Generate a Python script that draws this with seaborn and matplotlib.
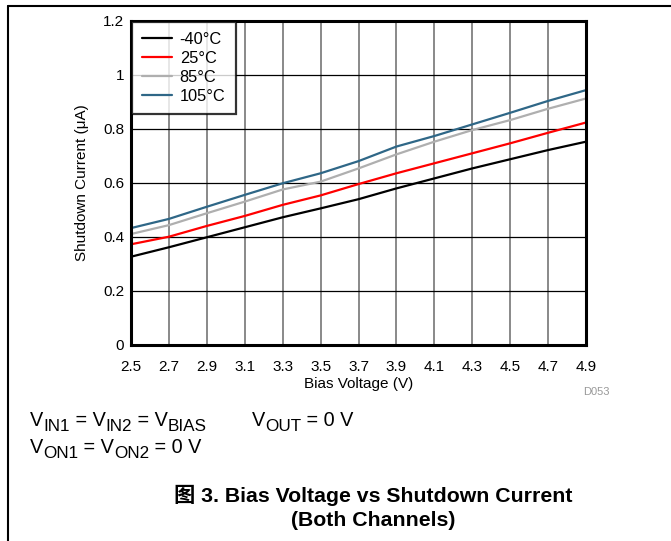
import numpy as np
import pandas as pd
import matplotlib
matplotlib.use("Agg")
import matplotlib.pyplot as plt
import seaborn as sns
from matplotlib.lines import Line2D

bias_v = [2.5, 2.7, 2.9, 3.1, 3.3, 3.5, 3.7, 3.9, 4.1, 4.3, 4.5, 4.7, 4.9]
i_m40 = [0.327, 0.362, 0.399, 0.436, 0.473, 0.506, 0.540, 0.580, 0.617, 0.654, 0.688, 0.722, 0.753]
i_25 = [0.373, 0.401, 0.441, 0.478, 0.519, 0.554, 0.596, 0.636, 0.673, 0.710, 0.747, 0.786, 0.824]
i_85 = [0.411, 0.444, 0.488, 0.531, 0.576, 0.605, 0.654, 0.706, 0.753, 0.796, 0.833, 0.875, 0.913]
i_105 = [0.433, 0.467, 0.512, 0.556, 0.599, 0.636, 0.681, 0.735, 0.774, 0.817, 0.860, 0.904, 0.944]
series_names = ["-40°C", "25°C", "85°C", "105°C"]
colors = ["#000000", "#FF0000", "#AFAFAF", "#2F6787"]
x_ticks = [2.5, 2.7, 2.9, 3.1, 3.3, 3.5, 3.7, 3.9, 4.1, 4.3, 4.5, 4.7, 4.9]
y_ticks = [0, 0.2, 0.4, 0.6, 0.8, 1.0, 1.2]
y_ticklabels = ["0", "0.2", "0.4", "0.6", "0.8", "1", "1.2"]

rows = []
for name, vals in zip(series_names, [i_m40, i_25, i_85, i_105]):
    for x, y in zip(bias_v, vals):
        rows.append({"Bias": x, "Current": y, "Temp": name})
df = pd.DataFrame(rows)

sns.set_theme(style="white")
plt.rcParams['font.family'] = ['Liberation Sans', 'Noto Sans CJK SC', 'DejaVu Sans']
plt.rcParams['text.color'] = 'black'
plt.rcParams['axes.labelcolor'] = 'black'
plt.rcParams['xtick.color'] = 'black'
plt.rcParams['ytick.color'] = 'black'

W, H = 671, 541
fig = plt.figure(figsize=(W/100, H/100), dpi=100)
ax = fig.add_axes([131/W, 1-345/H, (586-131)/W, (345-21)/H])

sns.lineplot(data=df, x="Bias", y="Current", hue="Temp", hue_order=series_names,
             palette=colors, linewidth=1.6, ax=ax, legend=False, zorder=3)

ax.set_xlim(2.5, 4.9)
ax.set_ylim(0, 1.2)
ax.set_xticks(x_ticks)
ax.set_xticklabels([f"{v:.1f}" for v in x_ticks])
ax.set_yticks(y_ticks)
ax.set_yticklabels(y_ticklabels)
ax.tick_params(axis='both', length=0, labelsize=11, colors='black')
ax.tick_params(axis='x', pad=10.5)
ax.tick_params(axis='y', pad=5)
ax.xaxis.grid(True, color='#808080', linewidth=1.3)
ax.yaxis.grid(True, color='black', linewidth=0.9)
ax.set_axisbelow(True)
for s in ax.spines.values():
    s.set_color('black')
    s.set_linewidth(2.2)
    s.set_zorder(5)
ax.set_xlabel("Bias Voltage (V)", fontsize=11, color='black', labelpad=2.5)
ax.set_ylabel("Shutdown Current (μA)", fontsize=11, color='black', labelpad=10)

handles = [Line2D([0], [0], color=c, lw=1.6) for c in colors]
leg = ax.legend(handles, series_names, loc='upper left', bbox_to_anchor=(0.0, 1.0),
                fontsize=11.8, frameon=True, fancybox=False, borderaxespad=0.05,
                handlelength=1.85, handletextpad=0.45, labelspacing=0.24, borderpad=0.62)
leg.get_frame().set_edgecolor('black')
leg.get_frame().set_linewidth(1.6)
leg.set_zorder(6)

fig.text(610/W, 1-392/H, "D053", fontsize=8, color='#999999', ha='right', va='center')

# condition notes with large subscripts, built piece by piece
renderer = fig.canvas.get_renderer()
MAIN, SUB, SUB_DROP = 14.3, 12.3, 5

def draw_pieces(x_px, base_px, pieces):
    x = x_px
    for txt, is_sub in pieces:
        size = SUB if is_sub else MAIN
        y = base_px + (SUB_DROP if is_sub else 0)
        t = fig.text(x/W, 1-y/H, txt, fontsize=size, ha='left', va='baseline')
        x += t.get_window_extent(renderer).width

draw_pieces(30, 426, [("V", 0), ("IN1", 1), (" = V", 0), ("IN2", 1), (" = V", 0), ("BIAS", 1)])
draw_pieces(252, 426, [("V", 0), ("OUT", 1), (" = 0 V", 0)])
draw_pieces(30, 453, [("V", 0), ("ON1", 1), (" = V", 0), ("ON2", 1), (" = 0 V", 0)])

fig.text(373/W, 1-495/H, "图 3. Bias Voltage vs Shutdown Current", fontsize=15.3,
         fontweight='bold', ha='center', va='center')
fig.text(373/W, 1-521/H, "(Both Channels)", fontsize=15.3,
         fontweight='bold', ha='center', va='center')

fig.add_artist(Line2D([8/W, 8/W], [0, 1-6/H], transform=fig.transFigure, color='black', lw=1.5))
fig.add_artist(Line2D([8/W, 1], [1-6/H, 1-6/H], transform=fig.transFigure, color='black', lw=1.5))

fig.savefig("out.png", dpi=100)
